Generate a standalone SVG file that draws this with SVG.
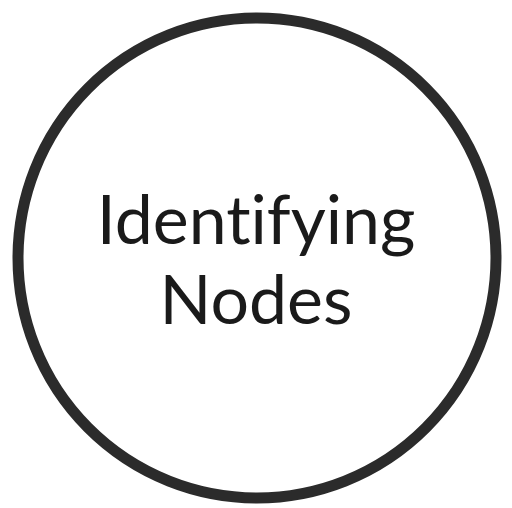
<svg xmlns="http://www.w3.org/2000/svg" width="512" height="508" viewBox="0 0 512 508">
<style>
.c{fill:#fff;stroke:#2b2b2b;stroke-width:11}
.t{font-family:Lato,"Open Sans",sans-serif;font-size:68px;fill:#1a1a1a;text-anchor:middle;font-variant-ligatures:none}
</style>
<rect width="512" height="508" fill="#fff"/>
<g id="node1">
<ellipse class="c" cx="257" cy="258" rx="239" ry="240"/>
<text class="t" x="256" y="244">Identifying</text>
<text class="t" x="256" y="324">Nodes</text>
</g>
</svg>
